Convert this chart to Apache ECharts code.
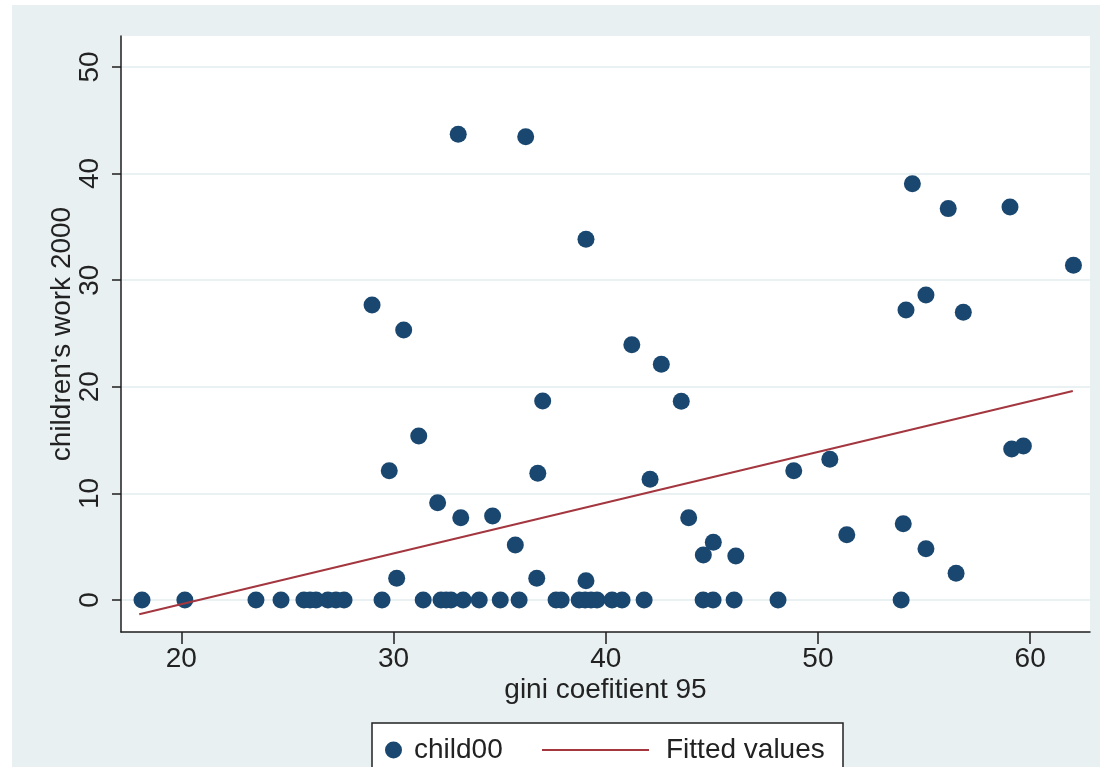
<!DOCTYPE html>
<html>
<head>
<meta charset="utf-8">
<script src="https://cdn.jsdelivr.net/npm/echarts@6/dist/echarts.min.js"></script>
<style>
  html, body { margin: 0; padding: 0; background: #ffffff; }
  #chart { width: 1107px; height: 767px; }
</style>
</head>
<body>
<div id="chart"></div>
<script>
// gini coefitient 95 (x) and children's work 2000 (y)
const giniValues = [
  18.15, 20.17, 23.52, 24.70, 25.78, 26.07, 26.35, 26.91, 27.29, 27.67,
  29.46, 31.40, 32.24, 32.48, 32.71, 33.28, 34.04, 35.03, 35.92, 37.66,
  37.90, 38.75, 39.03, 39.31, 39.59, 40.30, 40.77, 41.81, 44.59, 45.06,
  46.05, 48.12, 53.92,
  33.05, 36.23, 39.07, 28.99, 30.48, 31.19, 29.80, 36.80, 37.03, 32.08,
  33.17, 34.67, 35.74, 30.15, 36.75, 39.07, 41.23, 42.62, 43.56, 42.09,
  43.91, 45.07, 44.60, 46.13, 48.86, 50.56, 51.36, 54.02, 55.09, 56.51,
  54.45, 56.14, 59.05, 54.15, 55.09, 56.85, 62.04, 59.13, 59.68
];
const childValues = [
  0, 0, 0, 0, 0, 0, 0, 0, 0, 0,
  0, 0, 0, 0, 0, 0, 0, 0, 0, 0,
  0, 0, 0, 0, 0, 0, 0, 0, 0, 0,
  0, 0, 0,
  43.69, 43.46, 33.84, 27.67, 25.33, 15.38, 12.13, 11.89, 18.67, 9.13,
  7.72, 7.88, 5.16, 2.04, 2.04, 1.81, 23.95, 22.11, 18.64, 11.32,
  7.72, 5.41, 4.22, 4.13, 12.13, 13.20, 6.13, 7.16, 4.81, 2.50,
  39.05, 36.71, 36.87, 27.20, 28.61, 26.99, 31.40, 14.17, 14.45
];
// Fitted values line (end points)
const fitX = [18.02, 62.01];
const fitY = [-1.34, 19.61];

const xTicks = [20, 30, 40, 50, 60];
const yTicks = [0, 10, 20, 30, 40, 50];

const seriesNames = ['child00', 'Fitted values'];
const xTitle = 'gini coefitient 95';
const yTitle = "children's work 2000";

const scatterData = giniValues.map((x, i) => [x, childValues[i]]);
const fitData = fitX.map((x, i) => [x, fitY[i]]);

const FONT = "'Liberation Sans', Arial, sans-serif";
const TXT = '#222222';
const AX = '#1e1e1e';
const DOT = '#1a476f';
const FIT = '#a3363e';

const chart = echarts.init(document.getElementById('chart'), null, { renderer: 'canvas' });
chart.setOption({
  animation: false,
  backgroundColor: '#ffffff',
  textStyle: { fontFamily: FONT },
  graphic: [
    { type: 'rect', silent: true, z: -10, shape: { x: 12, y: 5, width: 1088, height: 762 }, style: { fill: '#e8f0f2' } },
    { type: 'rect', silent: true, z: 1, shape: { x: 372, y: 723, width: 471, height: 60 }, style: { fill: '#ffffff', stroke: '#222', lineWidth: 1.5 } }
  ],
  grid: { left: 121, right: 17, top: 36, bottom: 135, show: true, backgroundColor: '#ffffff', borderWidth: 0 },
  xAxis: {
    type: 'value', min: 17.16, max: 62.82,
    name: xTitle, nameLocation: 'middle', nameGap: 44, nameMoveOverlap: false,
    nameTextStyle: { fontSize: 28, color: TXT, fontFamily: FONT },
    axisLine: { onZero: false, lineStyle: { color: AX, width: 1.5 } },
    axisTick: { length: 12, customValues: xTicks, lineStyle: { color: AX, width: 1.5 } },
    axisLabel: { customValues: xTicks, fontSize: 28, color: TXT, margin: 13, fontFamily: FONT },
    splitLine: { show: false }
  },
  yAxis: {
    type: 'value', min: -3, max: 52.9,
    name: yTitle, nameLocation: 'middle', nameGap: 45, nameMoveOverlap: false,
    nameTextStyle: { fontSize: 28, color: TXT, fontFamily: FONT },
    axisLine: { onZero: false, lineStyle: { color: AX, width: 1.5 } },
    axisTick: { length: 9, customValues: yTicks, lineStyle: { color: AX, width: 1.5 } },
    axisLabel: { customValues: yTicks, rotate: 90, fontSize: 28, color: TXT, margin: 17, fontFamily: FONT },
    splitLine: { show: true, lineStyle: { color: '#e3ecef', width: 1.5 } }
  },
  legend: [
    { data: [seriesNames[0]], selectedMode: false, left: 380, top: 731, itemWidth: 31, itemHeight: 17, icon: 'circle',
      itemStyle: { color: DOT, opacity: 1 },
      textStyle: { fontSize: 28, color: TXT, fontFamily: FONT } },
    { data: [{ name: seriesNames[1], icon: 'rect' }], selectedMode: false, left: 537, top: 731, itemWidth: 107, itemHeight: 2,
      itemStyle: { color: FIT },
      textStyle: { fontSize: 28, color: TXT, fontFamily: FONT, padding: [0, 0, 0, 12] } }
  ],
  series: [
    { name: seriesNames[0], type: 'scatter', data: scatterData, symbol: 'circle', symbolSize: 17,
      itemStyle: { color: DOT, opacity: 1 } },
    { name: seriesNames[1], type: 'line', data: fitData, symbol: 'none', showSymbol: false,
      lineStyle: { color: FIT, width: 2 }, itemStyle: { color: FIT } }
  ]
});
</script>
</body>
</html>
